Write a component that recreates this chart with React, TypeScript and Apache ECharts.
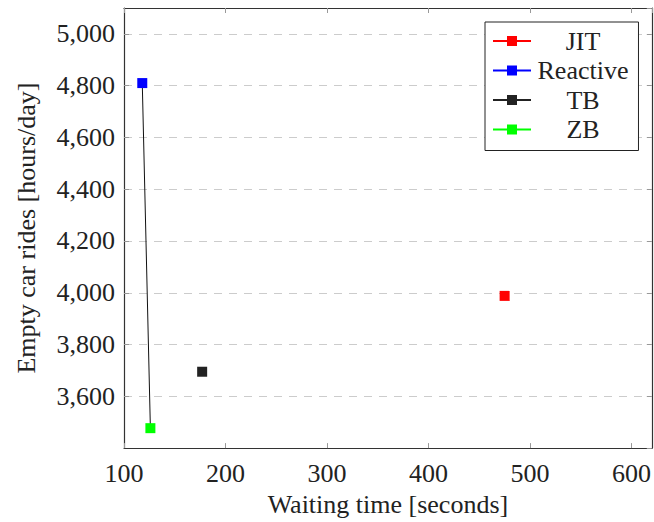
import React, { useEffect, useRef } from "react";
import * as echarts from "echarts";

const seriesNames = ["JIT", "Reactive", "TB", "ZB"];
const waitingTimes = [475, 118, 177, 126];
const emptyRides = [3988, 4810, 3695, 3477];
const seriesColors = ["#ff0000", "#0000ff", "#222222", "#00ff00"];

const frontierX = [118, 126];
const frontierY = [4810, 3477];

const xTitle = "Waiting time [seconds]";
const yTitle = "Empty car rides [hours/day]";

const FONT = "'Liberation Serif', 'Times New Roman', serif";
const FS = 26;

export default function App() {
  const ref = useRef<HTMLDivElement>(null);

  useEffect(() => {
    if (!ref.current) return;
    const chart = echarts.init(ref.current, null, { renderer: "svg" });

    const xCommon = {
      type: "value",
      min: 100,
      max: 620,
      interval: 100,
    };
    const yCommon = {
      type: "value",
      min: 3400,
      max: 5100,
      interval: 200,
    };
    const axisLine = { show: true, lineStyle: { color: "#333", width: 1.2 } };
    const axisTick = { show: true, inside: true, length: 5, lineStyle: { color: "#999", width: 1 } };

    const pointSeries = seriesNames.map((name, i) => ({
      name,
      type: "line",
      data: [[waitingTimes[i], emptyRides[i]]],
      symbol: "rect",
      symbolSize: 10,
      itemStyle: { color: seriesColors[i] },
      lineStyle: { color: seriesColors[i], width: 1 },
      z: 3,
    }));

    chart.setOption({
      animation: false,
      textStyle: { fontFamily: FONT },
      grid: { left: 124, top: 8, right: 1, bottom: 72, containLabel: false },
      xAxis: [
        {
          ...xCommon,
          position: "bottom",
          name: xTitle,
          nameLocation: "middle",
          nameGap: 40,
          nameTextStyle: { fontSize: FS, color: "#222", fontFamily: FONT },
          axisLine,
          axisTick,
          splitLine: { show: false },
          axisLabel: {
            fontSize: FS,
            color: "#222",
            fontFamily: FONT,
            margin: 12,
            showMaxLabel: false,
          },
        },
        {
          ...xCommon,
          position: "top",
          axisLine,
          axisTick,
          splitLine: { show: false },
          axisLabel: { show: false },
        },
      ],
      yAxis: [
        {
          ...yCommon,
          position: "left",
          name: yTitle,
          nameLocation: "middle",
          nameGap: 85,
          nameTextStyle: { fontSize: FS, color: "#222", fontFamily: FONT },
          axisLine,
          axisTick,
          splitLine: { show: true, lineStyle: { color: "#cccccc", type: [8, 7], width: 1 } },
          axisLabel: {
            fontSize: FS,
            color: "#222",
            fontFamily: FONT,
            margin: 9,
            showMinLabel: false,
            showMaxLabel: false,
            formatter: (v: number) => v.toLocaleString("en-US"),
          },
        },
        {
          ...yCommon,
          position: "right",
          axisLine,
          axisTick,
          splitLine: { show: false },
          axisLabel: { show: false },
        },
      ],
      legend: {
        data: seriesNames,
        orient: "vertical",
        left: 485,
        top: 22,
        padding: [6, 10, 8, 7],
        itemGap: 3.5,
        itemWidth: 38,
        itemHeight: 12.5,
        backgroundColor: "#fff",
        borderColor: "#222",
        borderWidth: 1,
        borderRadius: 0,
        formatter: (name: string) => `{t|${name}}`,
        textStyle: {
          fontFamily: FONT,
          fontSize: FS,
          color: "#222",
          rich: {
            t: { width: 94, align: "center", fontSize: FS, fontFamily: FONT, color: "#222" },
          },
        },
      },
      series: [
        {
          name: "frontier",
          type: "line",
          data: frontierX.map((x, i) => [x, frontierY[i]]),
          symbol: "none",
          lineStyle: { color: "#111", width: 1 },
          z: 2,
        },
        ...pointSeries,
      ],
    });

    return () => chart.dispose();
  }, []);

  return (
    <div
      ref={ref}
      style={{ position: "fixed", left: 0, top: 0, width: 654, height: 522, background: "#fff" }}
    />
  );
}
